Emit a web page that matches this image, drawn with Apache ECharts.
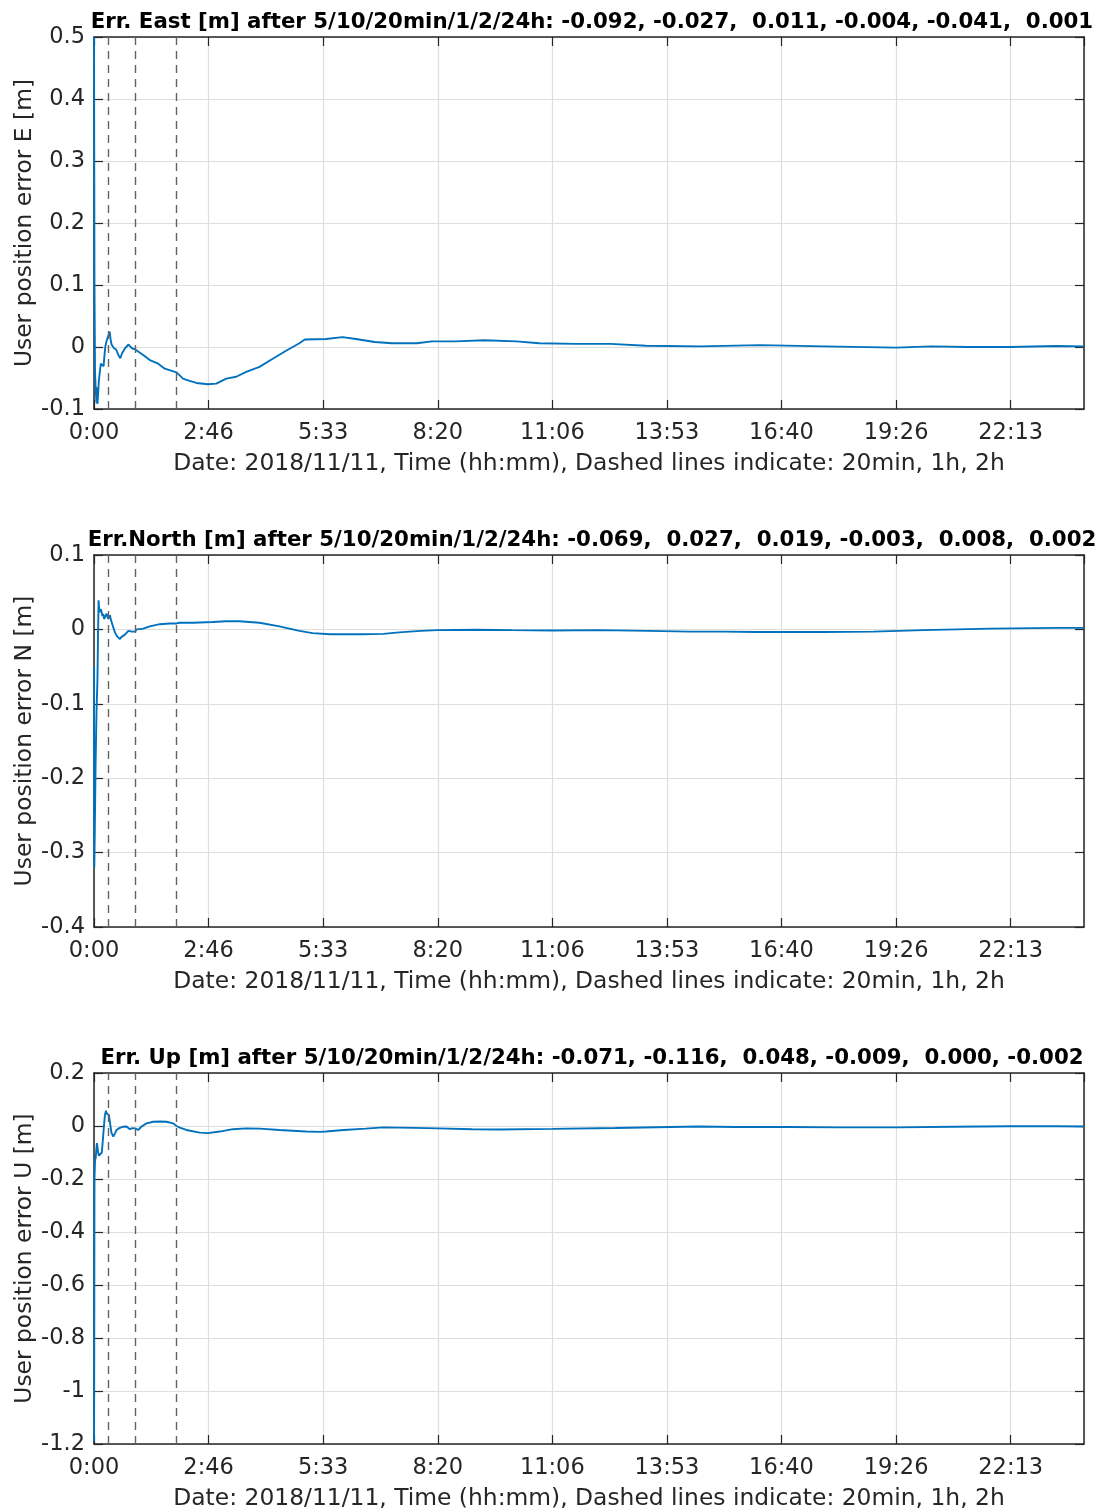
<!DOCTYPE html>
<html>
<head>
<meta charset="utf-8">
<script src="https://cdn.jsdelivr.net/npm/echarts@6/dist/echarts.min.js"></script>
<style>
html,body{margin:0;padding:0;background:#fff;}
#chart{width:1099px;height:1511px;}
</style>
</head>
<body>
<div id="chart"></div>
<script>
// ---- Data (time in seconds since 0:00, value in metres) ----
var xTickLabels = ['0:00','2:46','5:33','8:20','11:06','13:53','16:40','19:26','22:13'];
var dashedTimes = [1200, 3600, 7200]; // 20min, 1h, 2h

var titles = [
  'Err. East [m] after 5/10/20min/1/2/24h: -0.092, -0.027,  0.011, -0.004, -0.041,  0.001',
  'Err.North [m] after 5/10/20min/1/2/24h: -0.069,  0.027,  0.019, -0.003,  0.008,  0.002',
  'Err. Up [m] after 5/10/20min/1/2/24h: -0.071, -0.116,  0.048, -0.009,  0.000, -0.002'
];
var yNames = ['User position error E [m]', 'User position error N [m]', 'User position error U [m]'];
var xName = 'Date: 2018/11/11, Time (hh:mm), Dashed lines indicate: 20min, 1h, 2h';

var eastData = [[0,0.5],[40,0.1],[90,-0.04],[150,-0.07],[217,-0.09],[260,-0.065],[300,-0.092],[360,-0.075],[420,-0.055],[466,-0.052],[540,-0.035],[600,-0.027],[683,-0.026],[760,-0.03],[839,-0.031],[920,-0.012],[994,0.001],[1100,0.01],[1200,0.011],[1290,0.02],[1367,0.025],[1450,0.012],[1530,0.004],[1615,0.006],[1750,-0.002],[1926,-0.004],[2100,-0.012],[2298,-0.018],[2450,-0.01],[2702,-0.002],[3013,0.004],[3300,-0.002],[3600,-0.004],[4292,-0.013],[4872,-0.021],[5597,-0.027],[6177,-0.035],[7200,-0.041],[7772,-0.051],[8062,-0.053],[8932,-0.058],[9947,-0.060],[10672,-0.059],[11542,-0.051],[12412,-0.048],[13282,-0.040],[14442,-0.032],[15602,-0.019],[16762,-0.006],[17922,0.006],[18400,0.012],[20242,0.013],[21692,0.016],[22852,0.013],[24500,0.008],[26000,0.006],[28168,0.006],[29500,0.009],[31584,0.009],[34068,0.011],[36863,0.009],[38848,0.006],[42000,0.005],[45074,0.005],[48187,0.002],[52856,0.001],[58148,0.003],[63751,0.001],[69976,-0.001],[73089,0.001],[76202,0.000],[79938,0.000],[83984,0.0015],[86400,0.001]];

var northData = [[0,-0.05],[25,-0.32],[70,-0.27],[140,-0.18],[220,-0.11],[300,-0.069],[350,-0.01],[400,0.039],[440,0.03],[520,0.023],[600,0.027],[667,0.028],[740,0.018],[812,0.021],[880,0.014],[957,0.012],[1030,0.016],[1102,0.021],[1200,0.019],[1247,0.014],[1320,0.016],[1392,0.019],[1460,0.014],[1537,0.010],[1680,0.003],[1827,-0.004],[2000,-0.009],[2262,-0.013],[2400,-0.010],[2552,-0.008],[2700,-0.007],[2842,-0.005],[3000,-0.002],[3132,-0.001],[3300,-0.003],[3600,-0.003],[3712,0.000],[4292,0.001],[4872,0.004],[5742,0.007],[6612,0.008],[7200,0.008],[7482,0.009],[8642,0.009],[10382,0.010],[11500,0.011],[12700,0.011],[14442,0.009],[16182,0.004],[17922,-0.002],[19082,-0.005],[20600,-0.0065],[23432,-0.0066],[25250,-0.006],[26622,-0.004],[28500,-0.002],[30000,-0.001],[33400,-0.0005],[36500,-0.001],[40000,-0.0015],[44000,-0.001],[48400,-0.002],[52000,-0.003],[55000,-0.003],[57800,-0.0035],[63600,-0.0035],[68000,-0.003],[72400,-0.001],[78200,0.001],[84000,0.002],[86400,0.002]];

var upData = [[0,-1.19],[15,-1.0],[40,-0.2],[90,-0.13],[150,-0.12],[220,-0.08],[260,-0.065],[300,-0.071],[360,-0.1],[430,-0.112],[520,-0.115],[600,-0.116],[680,-0.1],[760,-0.06],[850,-0.01],[950,0.04],[1044,0.058],[1100,0.048],[1200,0.048],[1305,0.041],[1420,0.005],[1520,-0.025],[1682,-0.040],[1830,-0.028],[1972,-0.015],[2200,-0.008],[2500,-0.003],[2842,-0.002],[3132,-0.012],[3350,-0.008],[3600,-0.009],[3857,-0.015],[4147,-0.002],[4582,0.010],[5162,0.016],[5800,0.017],[6322,0.016],[6902,0.010],[7200,0.000],[7482,-0.006],[8062,-0.015],[9222,-0.025],[9947,-0.027],[10962,-0.021],[12122,-0.012],[13282,-0.009],[14442,-0.010],[16182,-0.015],[18502,-0.021],[19700,-0.022],[20242,-0.021],[21800,-0.015],[23722,-0.010],[25250,-0.005],[26622,-0.006],[27900,-0.007],[30000,-0.009],[33000,-0.012],[35400,-0.013],[40000,-0.011],[45500,-0.0075],[52700,-0.002],[56000,-0.004],[60700,-0.004],[65000,-0.005],[70000,-0.005],[75000,-0.003],[79900,-0.001],[84000,-0.001],[86400,-0.002]];

var seriesData = [eastData, northData, upData];
var yMin = [-0.1, -0.4, -1.2];
var yMax = [0.5, 0.1, 0.2];
var yInterval = [0.1, 0.1, 0.2];

// ---- Layout / style ----
var FONT = '"DejaVu Sans", Verdana, sans-serif';
var TXT = '#262626';
var gridTops = [37, 555, 1073];
var gridLeft = 94, gridWidth = 990, gridHeight = 372;
var X_MAX = 86400, X_INT = 10000;

var grids = [], xAxes = [], yAxes = [], series = [], titleList = [];

function xLabel(v){
  if (v % X_INT !== 0) return '';
  var i = Math.round(v / X_INT);
  return xTickLabels[i] !== undefined ? xTickLabels[i] : '';
}

for (var k = 0; k < 3; k++) {
  grids.push({left: gridLeft, top: gridTops[k], width: gridWidth, height: gridHeight, containLabel: false});
  titleList.push({
    text: titles[k], left: 587, top: gridTops[k] - 30, textAlign: 'center',
    textStyle: {fontFamily: FONT, fontSize: 21.3, fontWeight: 'bold', color: '#000'}
  });
  // bottom x axis
  xAxes.push({
    type: 'value', gridIndex: k, position: 'bottom', min: 0, max: X_MAX, interval: X_INT,
    name: xName, nameLocation: 'middle', nameGap: 43, nameMoveOverlap: false,
    nameTextStyle: {fontFamily: FONT, fontSize: 23.4, color: TXT},
    axisLine: {show: true, onZero: false, lineStyle: {color: TXT, width: 1.5}},
    axisTick: {show: true, inside: true, length: 9, lineStyle: {color: TXT, width: 1.2}},
    axisLabel: {show: true, fontFamily: FONT, fontSize: 22.5, color: TXT, margin: 13, formatter: xLabel, showMaxLabel: false},
    splitLine: {show: true, lineStyle: {color: '#dedede', width: 1.2}}
  });
  // top x axis (box + ticks)
  xAxes.push({
    type: 'value', gridIndex: k, position: 'top', min: 0, max: X_MAX, interval: X_INT,
    axisLine: {show: true, onZero: false, lineStyle: {color: TXT, width: 1.5}},
    axisTick: {show: true, inside: true, length: 9, lineStyle: {color: TXT, width: 1.2}},
    axisLabel: {show: false}, splitLine: {show: false}
  });
  // left y axis
  yAxes.push({
    type: 'value', gridIndex: k, position: 'left', min: yMin[k], max: yMax[k], interval: yInterval[k],
    name: yNames[k], nameLocation: 'middle', nameGap: 58, nameRotate: 90, nameMoveOverlap: false,
    nameTextStyle: {fontFamily: FONT, fontSize: 23.4, color: TXT},
    axisLine: {show: true, onZero: false, lineStyle: {color: TXT, width: 1.5}},
    axisTick: {show: true, inside: true, length: 9, lineStyle: {color: TXT, width: 1.2}},
    axisLabel: {show: true, fontFamily: FONT, fontSize: 22.5, color: TXT, margin: 9},
    splitLine: {show: true, lineStyle: {color: '#dedede', width: 1.2}}
  });
  // right y axis (box + ticks)
  yAxes.push({
    type: 'value', gridIndex: k, position: 'right', min: yMin[k], max: yMax[k], interval: yInterval[k],
    axisLine: {show: true, onZero: false, lineStyle: {color: TXT, width: 1.5}},
    axisTick: {show: true, inside: true, length: 9, lineStyle: {color: TXT, width: 1.2}},
    axisLabel: {show: false}, splitLine: {show: false}
  });
  series.push({
    type: 'line', xAxisIndex: 2 * k, yAxisIndex: 2 * k, data: seriesData[k],
    showSymbol: false, symbol: 'none', smooth: false, animation: false,
    lineStyle: {color: '#0072BD', width: 1.9},
    markLine: {
      silent: true, symbol: ['none', 'none'], label: {show: false}, animation: false,
      lineStyle: {color: '#636363', type: [8, 6], width: 1.4},
      data: dashedTimes.map(function(t){ return {xAxis: t}; })
    },
    z: 3
  });
}

var chart = echarts.init(document.getElementById('chart'), null, {renderer: 'canvas'});
chart.setOption({
  backgroundColor: '#fff',
  animation: false,
  title: titleList,
  grid: grids,
  xAxis: xAxes,
  yAxis: yAxes,
  series: series
});
</script>
</body>
</html>
